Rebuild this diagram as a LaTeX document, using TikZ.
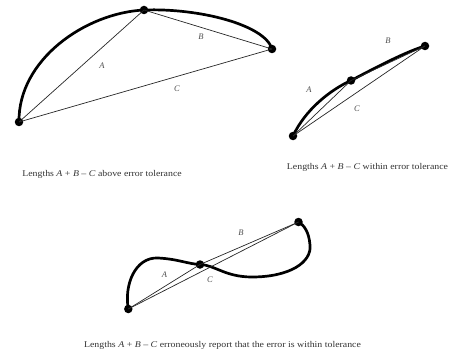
\documentclass[tikz,border=0pt]{standalone}
\usepackage{fontspec}
\setmainfont{Liberation Serif}
\begin{document}
\begin{tikzpicture}[x=1pt,y=1pt,
  dot/.style={circle,fill=black,inner sep=0pt,minimum size=8.5pt},
  curve/.style={line width=2.7pt,line cap=round},
  chord/.style={line width=0.7pt,draw=black!85},
  lbl/.style={font=\fontsize{8.5}{10}\selectfont\itshape,text=black!70,inner sep=0pt},
  captext/.style={font=\fontsize{8.8}{10}\selectfont\addfontfeature{FakeStretch=1.12},text=black!80,inner sep=0pt}]
\useasboundingbox (0,0) rectangle (453,-353);
% Diagram 1
\node[dot] (a1) at (19,-122) {};
\node[dot] (a2) at (144,-10) {};
\node[dot] (a3) at (272,-49) {};
\draw[curve] (a1.center) .. controls (18,-60) and (85,-13) .. (a2.center)
  .. controls (200,-8) and (265,-25) .. (a3.center);
\draw[chord] (a1.center) -- (a2.center);
\draw[chord] (a2.center) -- (a3.center);
\draw[chord] (a1.center) -- (a3.center);
\node[lbl] (la1) at (102,-66) {A};
\node[lbl] (lb1) at (201,-37) {B};
\node[lbl] (lc1) at (177,-89) {C};
\node[captext] (cap1) at (102,-174) {Lengths \textit{A} + \textit{B} – \textit{C} above error tolerance};
% Diagram 2
\node[dot] (b1) at (293,-136) {};
\node[dot] (b2) at (351,-80.5) {};
\node[dot] (b3) at (425,-46) {};
\draw[curve] (b1.center) .. controls (305,-110) and (330,-90) .. (b2.center)
  .. controls (375,-68) and (405,-52) .. (b3.center);
\draw[chord] (b1.center) -- (b2.center);
\draw[chord] (b2.center) -- (b3.center);
\draw[chord] (b1.center) -- (b3.center);
\node[lbl] (la2) at (309,-90) {A};
\node[lbl] (lb2) at (388,-41) {B};
\node[lbl] (lc2) at (357,-108.5) {C};
\node[captext] (cap2) at (367.5,-167) {Lengths \textit{A} + \textit{B} – \textit{C} within error tolerance};
% Diagram 3
\node[dot] (c1) at (128.3,-309) {};
\node[dot] (c2) at (200,-264.5) {};
\node[dot] (c3) at (298.5,-222) {};
\draw[curve] (c1.center) .. controls (124,-285) and (135,-257) .. (158,-258)
  .. controls (178,-259) and (188,-264) .. (c2.center)
  .. controls (215,-265) and (225,-277) .. (252,-277)
  .. controls (290,-277) and (312,-262) .. (310,-245)
  .. controls (309,-232) and (304,-225) .. (c3.center);
\draw[chord] (c1.center) -- (c2.center);
\draw[chord] (c2.center) -- (c3.center);
\draw[chord] (c1.center) -- (c3.center);
\node[lbl] (la3) at (164.5,-275) {A};
\node[lbl] (lb3) at (241,-232.5) {B};
\node[lbl] (lc3) at (210,-280) {C};
\node[captext] (cap3) at (222.5,-345) {Lengths \textit{A} + \textit{B} – \textit{C} erroneously report that the error is within tolerance};
\end{tikzpicture}
\end{document}
